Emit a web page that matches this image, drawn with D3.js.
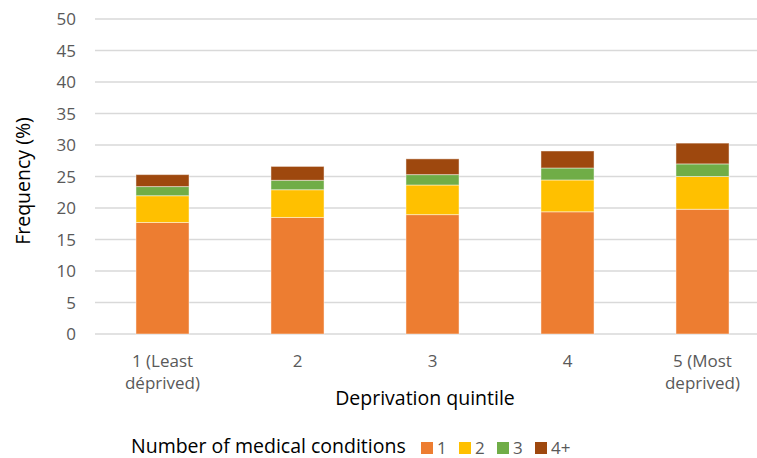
<html>
<head>
<meta charset="UTF-8">
<script src="https://d3js.org/d3.v7.min.js"></script>
<style>
  body { margin: 0; background: #fff; }
  text { font-family: 'Open Sans', sans-serif; }
</style>
</head>
<body>
<svg id="chart" width="757" height="458"></svg>
<script>
// data
const quintiles = ['1 (Least|déprived)', '2', '3', '4', '5 (Most|deprived)'];
const seriesNames = ['1', '2', '3', '4+'];
const cond1 = [17.7, 18.5, 18.95, 19.4, 19.8];
const cond2 = [4.25, 4.4, 4.7, 5.05, 5.2];
const cond3 = [1.45, 1.5, 1.65, 1.9, 2.0];
const cond4 = [1.9, 2.2, 2.5, 2.7, 3.3];
const yTicks = [0, 5, 10, 15, 20, 25, 30, 35, 40, 45, 50];
const colors = ['#ED7D31', '#FFC000', '#70AD47', '#9E480E'];

const svg = d3.select('#chart');

const rows = quintiles.map((q, i) => ({q: q, '1': cond1[i], '2': cond2[i], '3': cond3[i], '4+': cond4[i]}));
const stacked = d3.stack().keys(seriesNames)(rows);

const x = d3.scaleBand().domain(quintiles).range([95, 770])
    .paddingInner(0.607).paddingOuter(0.3035);
const y = d3.scaleLinear().domain([0, 50]).range([334, 19]);

// gridlines
svg.append('g').selectAll('line')
  .data(yTicks).join('line')
  .attr('x1', 95).attr('x2', 757)
  .attr('y1', d => y(d)).attr('y2', d => y(d))
  .attr('stroke', '#d9d9d9').attr('stroke-width', 1.3);

// y tick labels
svg.append('g').selectAll('text')
  .data(yTicks).join('text')
  .attr('x', 76).attr('y', d => y(d) + 6)
  .attr('text-anchor', 'end')
  .attr('font-size', 17).attr('fill', '#595959')
  .text(d => d);

// bars
svg.append('g').selectAll('g')
  .data(stacked).join('g')
  .attr('fill', (d, i) => colors[i])
  .selectAll('rect')
  .data(d => d).join('rect')
  .attr('x', d => x(d.data.q))
  .attr('width', x.bandwidth())
  .attr('y', d => y(d[1]))
  .attr('height', d => y(d[0]) - y(d[1]))
  .attr('stroke', '#fff').attr('stroke-opacity', 0.45).attr('stroke-width', 1);

// x labels
const xl = svg.append('g').selectAll('text')
  .data(quintiles).join('text')
  .attr('x', d => x(d) + x.bandwidth() / 2)
  .attr('y', 367)
  .attr('text-anchor', 'middle')
  .attr('font-size', 17).attr('fill', '#595959');
xl.selectAll('tspan')
  .data(d => d.split('|').map(s => ({s: s, cx: x(d) + x.bandwidth() / 2})))
  .join('tspan')
  .attr('x', d => d.cx)
  .attr('dy', (d, i) => i === 0 ? 0 : 22)
  .text(d => d.s);

// axis titles
svg.append('text')
  .attr('x', 425).attr('y', 405)
  .attr('text-anchor', 'middle')
  .attr('font-size', 19.5).attr('fill', '#000')
  .text('Deprivation quintile');

svg.append('text')
  .attr('transform', 'translate(30,181) rotate(-90)')
  .attr('text-anchor', 'middle')
  .attr('font-size', 19.5).attr('fill', '#000')
  .text('Frequency (%)');

// legend
svg.append('text')
  .attr('x', 131).attr('y', 453)
  .attr('font-size', 19.5).attr('fill', '#000')
  .text('Number of medical conditions');

const legX = [421, 459, 497, 535];
const leg = svg.append('g').selectAll('g')
  .data(seriesNames).join('g')
  .attr('transform', (d, i) => `translate(${legX[i]},0)`);
leg.append('rect')
  .attr('x', 0).attr('y', 442)
  .attr('width', 12).attr('height', 12)
  .attr('fill', (d, i) => colors[i]);
leg.append('text')
  .attr('x', 16).attr('y', 454)
  .attr('font-size', 17).attr('fill', '#595959')
  .text(d => d);
</script>
</body>
</html>
